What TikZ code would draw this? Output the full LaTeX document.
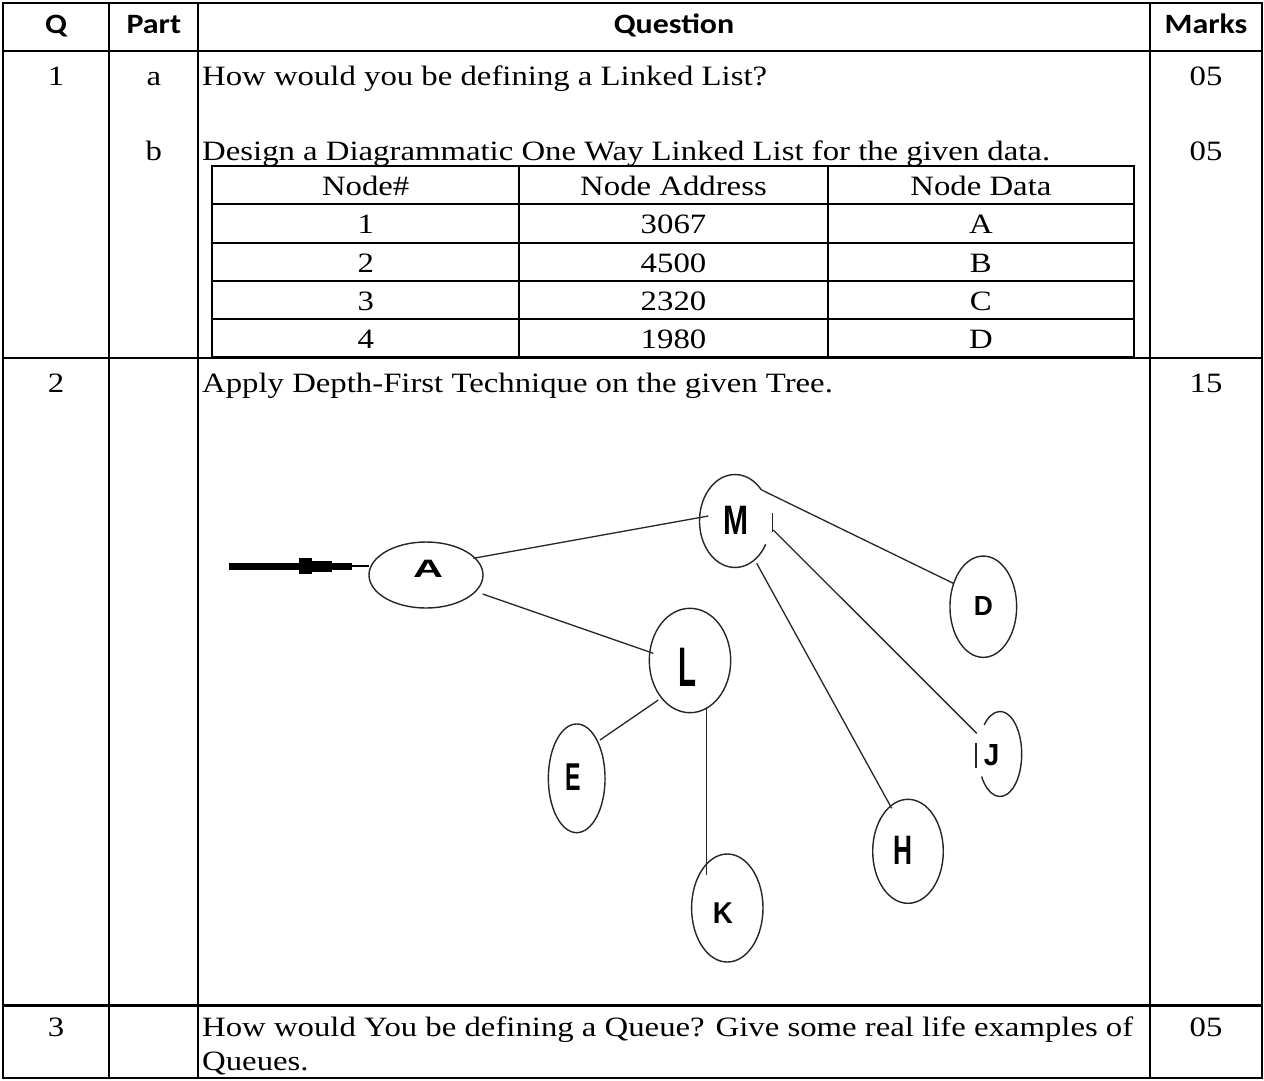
\documentclass[tikz,border=0pt]{standalone}
\usepackage{fontspec}
\usepackage{graphicx}
\setmainfont{Liberation Serif}[FakeStretch=1.17]
\newfontfamily\hdrfont{Carlito}[FakeStretch=1.14]
\newfontfamily\treefont{Liberation Sans}
\usetikzlibrary{shapes.geometric,calc}
\newcommand{\tl}[3]{\resizebox{#1pt}{#2pt}{\treefont\bfseries #3}}
\begin{document}
\begin{tikzpicture}[x=1pt,y=-1pt,
  grid/.style={line width=2pt,line cap=rect},
  body/.style={inner sep=0pt,font=\fontsize{28}{34}\selectfont},
  hdr/.style={inner sep=0pt,font=\hdrfont\bfseries\fontsize{28}{34}\selectfont,anchor=base},
  oval/.style={ellipse,draw=black!85,line width=1.4pt,inner sep=0pt},
  hole/.style={ellipse,inner sep=0pt},
  link/.style={line width=1.3pt,draw=black!85},
  lbl/.style={inner sep=0pt}]
\useasboundingbox (0,0) rectangle (1264,1080);
\fill[white] (0,0) rectangle (1264,1080);
% outer table
\draw[grid] (3,3) rectangle (1262,1078);
\draw[grid] (109.3,3) -- (109.3,1078);
\draw[grid] (198.3,3) -- (198.3,1078);
\draw[grid] (1150,3) -- (1150,1078);
\draw[grid] (3,51) -- (1262,51);
\draw[grid] (3,358) -- (1262,358);
\draw[grid,line width=2.8pt] (3,1005.5) -- (1262,1005.5);
% inner table
\draw[grid] (212,166) rectangle (1134,357);
\foreach \yy in {203.5,242.5,280.5,319} \draw[grid] (212,\yy) -- (1134,\yy);
\draw[grid] (519.3,166) -- (519.3,357);
\draw[grid] (827.7,166) -- (827.7,357);
% header
\node[hdr] (hq) at (56,33) {Q};
\node[hdr] (hp) at (153.8,33) {Part};
\node[hdr] (hqu) at (674,33) {Question};
\node[hdr] (hm) at (1206,33) {Marks};
% row 1
\node[body,anchor=base] (q1) at (56,85) {1};
\node[body,anchor=base] (p1a) at (153.8,85) {a};
\node[body,anchor=base west] (t1a) at (202,85) {How would you be defining a Linked List?};
\node[body,anchor=base] (m1a) at (1206,85) {05};
\node[body,anchor=base] (p1b) at (153.8,160) {b};
\node[body,anchor=base west] (t1b) at (202,160) {Design a Diagrammatic One Way Linked List for the given data.};
\node[body,anchor=base] (m1b) at (1206,160) {05};
% inner table text
\node[body,anchor=base] (c11) at (365.7,195) {Node\#};
\node[body,anchor=base] (c12) at (673.5,195) {Node Address};
\node[body,anchor=base] (c13) at (980.9,195) {Node Data};
\node[body,anchor=base] (c21) at (365.7,233.5) {1};
\node[body,anchor=base] (c22) at (673.5,233.5) {3067};
\node[body,anchor=base] (c23) at (980.9,233.5) {A};
\node[body,anchor=base] (c31) at (365.7,272) {2};
\node[body,anchor=base] (c32) at (673.5,272) {4500};
\node[body,anchor=base] (c33) at (980.9,272) {B};
\node[body,anchor=base] (c41) at (365.7,310) {3};
\node[body,anchor=base] (c42) at (673.5,310) {2320};
\node[body,anchor=base] (c43) at (980.9,310) {C};
\node[body,anchor=base] (c51) at (365.7,348.5) {4};
\node[body,anchor=base] (c52) at (673.5,348.5) {1980};
\node[body,anchor=base] (c53) at (980.9,348.5) {D};
% row 2
\node[body,anchor=base] (q2) at (56,392) {2};
\node[body,anchor=base west] (t2) at (202,392) {Apply Depth-First Technique on the given Tree.};
\node[body,anchor=base] (m2) at (1206,392) {15};
% row 3
\node[body,anchor=base] (q3) at (56,1036) {3};
\node[body,anchor=base west] (t3a) at (202,1036) {How would You be defining a Queue? Give some real life examples of};
\node[body,anchor=base west] (t3b) at (202,1070) {Queues.};
\node[body,anchor=base] (m3) at (1206,1036) {05};
% tree ovals
\node[oval,minimum width=114pt,minimum height=66pt] (A) at (426,575) {};
\node[hole,minimum width=71pt,minimum height=93pt] (M) at (735,521) {};
\node[oval,minimum width=81.4pt,minimum height=104.4pt] (L) at (690,660.5) {};
\node[oval,minimum width=66.7pt,minimum height=101.3pt] (D) at (983.3,606.7) {};
\node[oval,minimum width=56.7pt,minimum height=108.7pt] (E) at (576.7,778.3) {};
\node[oval,minimum width=71.4pt,minimum height=108pt] (K) at (727.3,908) {};
\node[oval,minimum width=70.6pt,minimum height=104pt] (H) at (908,851.3) {};
\node[hole,minimum width=43.4pt,minimum height=85pt] (J) at (1000,754) {};
% broken ovals M and J
\draw[draw=black!85,line width=1.4pt] (M.center) ++(-42:35.5 and 46.5) arc[start angle=-42,end angle=-330,x radius=35.5,y radius=46.5];
\draw[link] ($(M)+(37.7,-8.3)$) -- ($(M)+(37.7,10.7)$);
\draw[draw=black!85,line width=1.4pt] (J.center) ++(-212:21.7 and 42.5) arc[start angle=-212,end angle=-497,x radius=21.7,y radius=42.5];
\draw[link] ($(J)+(-24,-10.7)$) -- ($(J)+(-24,14.3)$);
% letters
\node[lbl] (tA) at (428,568.7) {\tl{30}{17.3}{A}};
\node[lbl] (tM) at (736.2,520.8) {\tl{25}{28.3}{M}};
\node[lbl] (tD) at (983.3,606.2) {\tl{19}{19}{D}};
\node[lbl] (tL) at (687,667.5) {\tl{18}{38.3}{L}};
\node[lbl] (tE) at (573.3,776.7) {\tl{15.5}{26.7}{E}};
\node[lbl] (tK) at (722.8,913) {\tl{20}{20.7}{K}};
\node[lbl] (tH) at (903.3,850.8) {\tl{19}{28.3}{H}};
\node[lbl] (tJ) at (991.7,755.5) {\tl{15.5}{21}{J}};
% incoming arrow
\coordinate (in) at (229,566);
\draw[line width=2pt] (in) -- ($(A)+(-56.7,-9)$);
\fill (in) ++(0,-3.5) rectangle (352,569.5);
\fill (299.3,557.5) rectangle (311.7,573.5);
\fill (311.7,560.5) rectangle (331.7,571.5);
% links
\draw[link] ($(A)+(47.3,-16.7)$) -- ($(M)+(-26.7,-5)$);
\draw[link] ($(A)+(56.7,19)$) -- ($(L)+(-36.7,-7.2)$);
\draw[link] ($(M)+(26.7,-31)$) -- ($(D)+(-30,-23.4)$);
\draw[link] ($(M)+(38.3,9)$) -- ($(J)+(-23.3,-20.7)$);
\draw[link] ($(M)+(21.7,42.3)$) -- ($(H)+(-16.3,-43)$);
\draw[link] ($(L)+(-31.7,39.5)$) -- ($(E)+(23.3,-38.3)$);
\draw[link] ($(L)+(16.7,46.2)$) -- ($(K)+(-20.6,-33)$);
\end{tikzpicture}
\end{document}
